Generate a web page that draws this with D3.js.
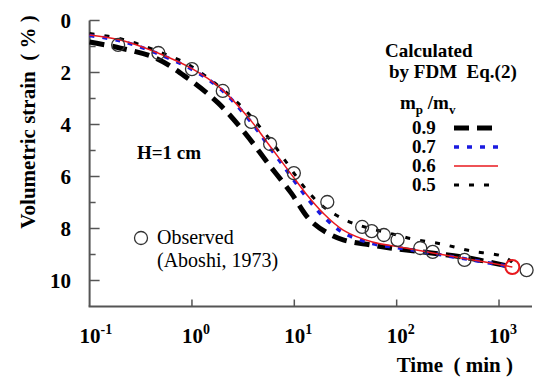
<!DOCTYPE html>
<html>
<head>
<meta charset="utf-8">
<script src="https://cdn.jsdelivr.net/npm/d3@7/dist/d3.min.js"></script>
<style>
body { margin: 0; background: #fff; }
text { font-family: "Liberation Serif", "Times New Roman", serif; white-space: pre; }
</style>
</head>
<body>
<svg id="chart" width="541" height="380"></svg>
<script>
// observed data (Aboshi, 1973)
var obsTime = [0.19, 0.47, 1.0, 2.0, 3.8, 5.8, 9.9, 21, 46, 57, 75, 102, 170, 225, 460, 1860];
var obsStrain = [0.94, 1.25, 1.87, 2.71, 3.9, 4.75, 5.87, 6.98, 7.94, 8.1, 8.25, 8.44, 8.75, 8.9, 9.21, 9.6];
var markTime = [1350];
var markStrain = [9.48];

// calculated by FDM, mp/mv = 0.9, 0.7, 0.6, 0.5
var time09 = [0.1, 0.2, 0.44, 0.9, 1.8, 3.3, 5.5, 9.3, 14.2, 21, 30, 55, 86, 182, 490, 1350];
var strain09 = [0.83, 1.06, 1.44, 2.21, 3.17, 4.33, 5.48, 6.63, 7.67, 8.17, 8.44, 8.63, 8.75, 8.9, 9.13, 9.48];
var time07 = [0.1, 0.2, 0.44, 1.0, 1.9, 3.8, 5.7, 9, 13.3, 19, 30, 58, 107, 225, 490, 1350];
var strain07 = [0.58, 0.78, 1.24, 1.88, 2.63, 3.92, 4.86, 5.92, 6.82, 7.52, 8.16, 8.58, 8.75, 8.96, 9.18, 9.48];
var time06 = [0.1, 0.2, 0.44, 1.0, 1.9, 3.8, 5.7, 9, 13.3, 19, 30, 58, 107, 225, 490, 1350];
var strain06 = [0.56, 0.75, 1.21, 1.85, 2.6, 3.87, 4.8, 5.83, 6.71, 7.4, 8.06, 8.52, 8.71, 8.94, 9.17, 9.48];
var time05 = [0.1, 0.2, 0.44, 1.0, 2.95, 5.7, 13.2, 19, 26, 36.5, 55, 100, 141, 277, 540, 1070, 1350];
var strain05 = [0.5, 0.7, 1.15, 1.78, 3.25, 4.55, 6.52, 7.15, 7.5, 7.78, 8.0, 8.25, 8.4, 8.6, 8.87, 9.06, 9.3];

var xTicks = [0.1, 1, 10, 100, 1000];
var xExp = ['-1', '0', '1', '2', '3'];
var yTicks = [0, 1, 2, 3, 4, 5, 6, 7, 8, 9, 10];
var yLabels = [0, 2, 4, 6, 8, 10];
var legendNames = ['0.9', '0.7', '0.6', '0.5'];

var svg = d3.select('#chart');
var axisColor = '#555';

var x = d3.scaleLog().domain([0.1, 2100]).range([89.6, 532]);
var y = d3.scaleLinear().domain([0, 11]).range([20.5, 306.5]);

// axes lines
svg.append('line').attr('x1', x(0.1)).attr('x2', x(0.1)).attr('y1', y(0)).attr('y2', y(11))
    .attr('stroke', axisColor).attr('stroke-width', 2);
svg.append('line').attr('x1', x(0.1) - 1).attr('x2', x(2100)).attr('y1', y(11)).attr('y2', y(11))
    .attr('stroke', axisColor).attr('stroke-width', 2);

svg.selectAll('.ytick').data(yTicks).enter().append('line')
    .attr('x1', x(0.1)).attr('x2', function (d) { return x(0.1) + (d % 2 === 0 ? 10 : 6); })
    .attr('y1', function (d) { return y(d); }).attr('y2', function (d) { return y(d); })
    .attr('stroke', axisColor).attr('stroke-width', 1.5);

svg.selectAll('.xtick').data(xTicks.slice(1)).enter().append('line')
    .attr('x1', function (d) { return x(d); }).attr('x2', function (d) { return x(d); })
    .attr('y1', y(11)).attr('y2', y(11) - 7)
    .attr('stroke', axisColor).attr('stroke-width', 1.5);

svg.selectAll('.ylab').data(yLabels).enter().append('text')
    .attr('x', 71).attr('y', function (d) { return y(d) + 7; })
    .attr('text-anchor', 'end').attr('font-size', 21).attr('font-weight', 'bold')
    .text(function (d) { return d; });

var xl = svg.selectAll('.xlab').data(xTicks).enter().append('text')
    .attr('x', function (d) { return x(d) - 10; }).attr('y', 343)
    .attr('font-size', 21).attr('font-weight', 'bold');
xl.append('tspan').text('10');
xl.append('tspan').attr('dy', -9).attr('font-size', 14).text(function (d, i) { return xExp[i]; });

svg.append('text').attr('x', 513).attr('y', 372).attr('text-anchor', 'end')
    .attr('font-size', 21).attr('font-weight', 'bold').text('Time  ( min )');

svg.append('text').attr('transform', 'translate(35,122) rotate(-90)').attr('text-anchor', 'middle')
    .attr('font-size', 21).attr('font-weight', 'bold').text('Volumetric strain  ( % )');

// curves
var line = d3.line()
    .x(function (d) { return x(d[0]); })
    .y(function (d) { return y(d[1]); })
    .curve(d3.curveCatmullRom);

function pairs(t, s) {
    return t.map(function (d, i) { return [d, s[i]]; });
}

var series = [
    { name: '0.9', data: pairs(time09, strain09), color: '#000', width: 5, dash: '15,8' },
    { name: '0.5', data: pairs(time05, strain05), color: '#000', width: 3, dash: '5,10' },
    { name: '0.7', data: pairs(time07, strain07), color: '#1a1adf', width: 3.5, dash: '5,8' },
    { name: '0.6', data: pairs(time06, strain06), color: '#e8191e', width: 1.5, dash: null }
];

svg.selectAll('.curve').data(series).enter().append('path')
    .attr('d', function (d) { return line(d.data); })
    .attr('fill', 'none')
    .attr('stroke', function (d) { return d.color; })
    .attr('stroke-width', function (d) { return d.width; })
    .attr('stroke-dasharray', function (d) { return d.dash; });

svg.selectAll('.obs').data(pairs(obsTime, obsStrain)).enter().append('circle')
    .attr('cx', function (d) { return x(d[0]); }).attr('cy', function (d) { return y(d[1]); })
    .attr('r', 6.5).attr('fill', 'none').attr('stroke', '#333').attr('stroke-width', 1.3);

svg.selectAll('.mark').data(pairs(markTime, markStrain)).enter().append('circle')
    .attr('cx', function (d) { return x(d[0]); }).attr('cy', function (d) { return y(d[1]); })
    .attr('r', 7).attr('fill', 'none').attr('stroke', '#e8191e').attr('stroke-width', 2);

// annotations
svg.append('text').attr('x', 137).attr('y', 159).attr('font-size', 19).attr('font-weight', 'bold').text('H=1 cm');

svg.append('circle').attr('cx', 141).attr('cy', 238).attr('r', 6.5)
    .attr('fill', 'none').attr('stroke', '#333').attr('stroke-width', 1.3);
svg.append('text').attr('x', 157).attr('y', 244).attr('font-size', 20).text('Observed');
svg.append('text').attr('x', 157).attr('y', 267).attr('font-size', 20).text('(Aboshi, 1973)');

// legend
svg.append('text').attr('x', 385).attr('y', 57).attr('font-size', 19).attr('font-weight', 'bold').text('Calculated');
svg.append('text').attr('x', 389).attr('y', 78).attr('font-size', 19).attr('font-weight', 'bold')
    .text('by FDM  Eq.(2)');

var mt = svg.append('text').attr('x', 400).attr('y', 109).attr('font-size', 19).attr('font-weight', 'bold');
mt.append('tspan').text('m');
mt.append('tspan').attr('dy', 5).attr('font-size', 13).text('p');
mt.append('tspan').attr('dy', -5).text(' /m');
mt.append('tspan').attr('dy', 5).attr('font-size', 13).text('v');

var legendSeries = legendNames.map(function (n) {
    return series.filter(function (s) { return s.name === n; })[0];
});
var lg = svg.selectAll('.leg').data(legendSeries).enter().append('g')
    .attr('transform', function (d, i) { return 'translate(0,' + (128 + i * 19) + ')'; });
lg.append('text').attr('x', 412).attr('y', 6).attr('font-size', 19).attr('font-weight', 'bold')
    .text(function (d) { return d.name; });
lg.append('line').attr('x1', 454).attr('x2', 498).attr('y1', 0).attr('y2', 0)
    .attr('stroke', function (d) { return d.color; })
    .attr('stroke-width', function (d) { return d.width; })
    .attr('stroke-dasharray', function (d) { return d.dash; });
</script>
</body>
</html>
